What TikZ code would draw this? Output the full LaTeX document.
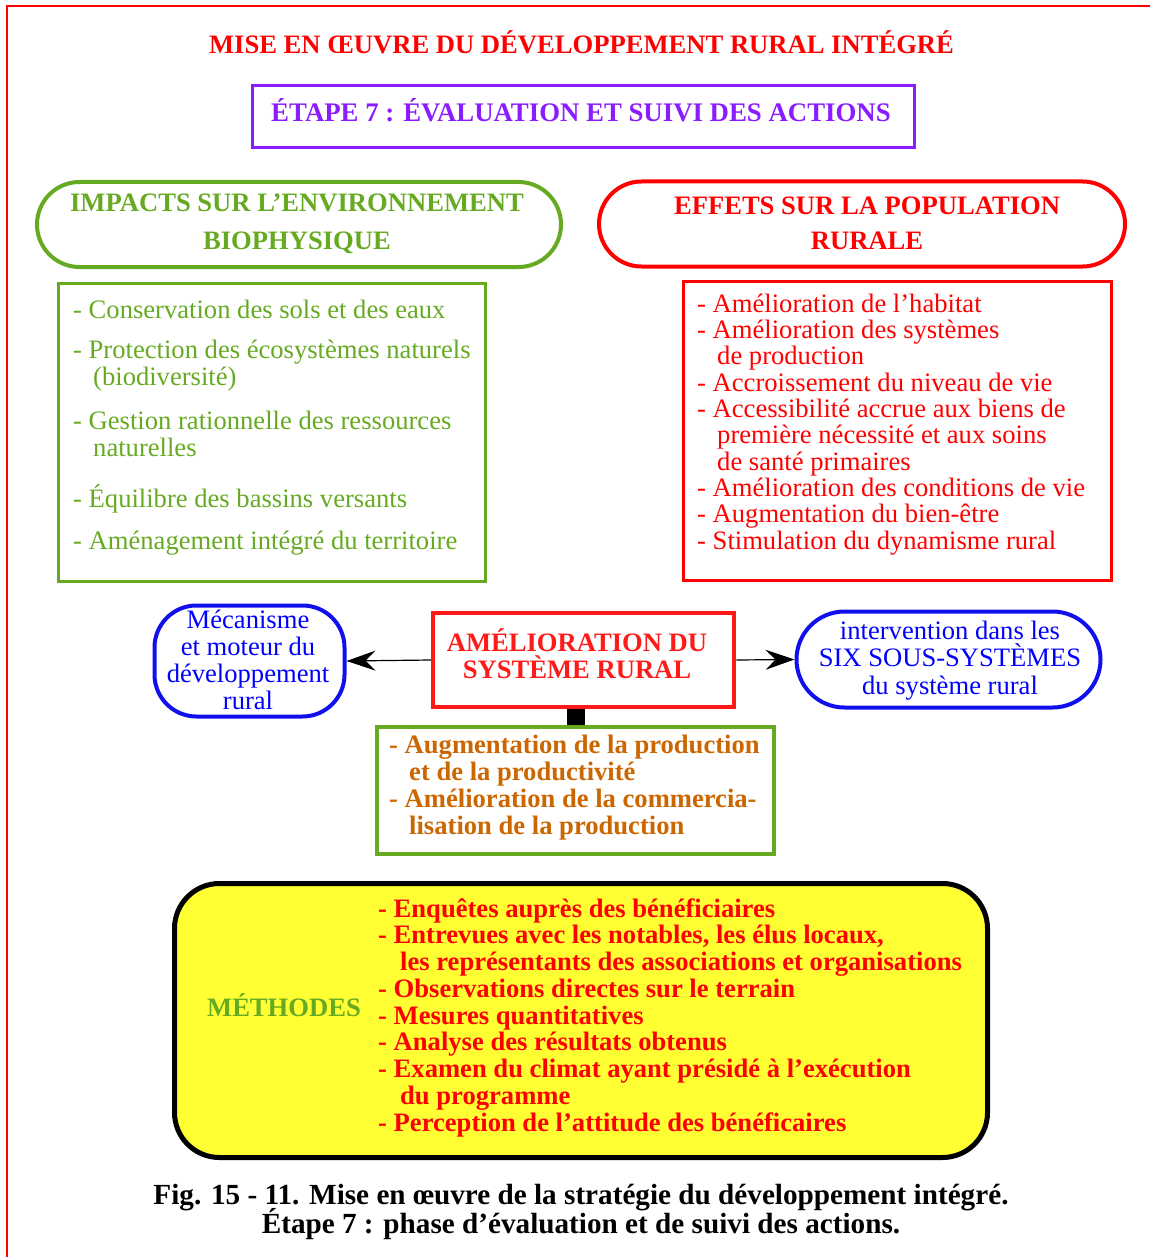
\documentclass[tikz,border=0pt]{standalone}
\usepackage{fontspec}
\setmainfont{Liberation Serif}
\usetikzlibrary{arrows.meta,shapes.misc}
\definecolor{cred}{HTML}{FF0000}
\definecolor{cboxred}{HTML}{FF1A1A}
\definecolor{cpurple}{HTML}{8A1CFF}
\definecolor{cgreen}{HTML}{66AA22}
\definecolor{cblue}{HTML}{0000FF}
\definecolor{cboxblue}{HTML}{1010EE}
\definecolor{corange}{HTML}{CC6600}
\definecolor{cyellow}{HTML}{FFFF33}
\begin{document}
\setlength{\lineskiplimit}{-100pt}
\begin{tikzpicture}[x=1pt,y=-1pt,
  hdrbox/.style={rounded rectangle, line width=4pt, inner sep=0pt},
  plainbox/.style={rectangle, line width=3pt, inner sep=0pt},
  txt/.style={inner sep=0pt, anchor=base},
  ltxt/.style={inner sep=0pt, anchor=base west, align=left},
  bigb/.style={font=\bfseries\fontsize{26.6}{37}\selectfont},
  arr/.style={line width=1.2pt, -{Stealth[length=29pt,width=20pt,inset=10pt]}},
]
\useasboundingbox (0,0) rectangle (1150,1257);
\draw[cred, line width=1.2pt] (7,1257) -- (7,6) -- (1150,6);

% title
\node[txt, text=cred, font=\bfseries\fontsize{26.6}{30}\selectfont] (title) at (581.5,54)
  {MISE EN ŒUVRE DU DÉVELOPPEMENT RURAL INTÉGRÉ};

% etape
\node[plainbox, draw=cpurple, minimum width=662, minimum height=62] (etape) at (583.5,116.5) {};
\node[txt, text=cpurple, font=\bfseries\fontsize{26.8}{30}\selectfont] (etapetxt) at (581,122)
  {ÉTAPE 7 : ÉVALUATION ET SUIVI DES ACTIONS};

% headers
\node[hdrbox, draw=cgreen, minimum width=524, minimum height=85] (envhdr) at (299,224.5) {};
\node[txt, align=center, text=cgreen, bigb] (envtxt) at (297,249)
  {IMPACTS SUR L’ENVIRONNEMENT\\BIOPHYSIQUE};
\node[hdrbox, draw=cred, minimum width=526, minimum height=85] (pophdr) at (862,224) {};
\node[txt, align=center, text=cred, font=\bfseries\fontsize{26.6}{35}\selectfont] (poptxt) at (867,249)
  {EFFETS SUR LA POPULATION\\RURALE};

% green list
\node[plainbox, draw=cgreen, minimum width=427, minimum height=298] (envbox) at (272,432.5) {};
\node[ltxt, text=cgreen, font=\fontsize{26.6}{27}\selectfont] (envlist) at (73,549)
  {- Conservation des sols et des eaux\\[13pt]
   - Protection des écosystèmes naturels\\
   \hspace*{20pt}(biodiversité)\\[17pt]
   - Gestion rationnelle des ressources\\
   \hspace*{20pt}naturelles\\[24pt]
   - Équilibre des bassins versants\\[15pt]
   - Aménagement intégré du territoire};

% red list
\node[plainbox, draw=cred, minimum width=428, minimum height=299] (popbox) at (897.5,431) {};
\node[ltxt, text=cred, font=\fontsize{26.6}{26.33}\selectfont] (poplist) at (697,549)
  {- Amélioration de l’habitat\\
   - Amélioration des systèmes\\
   \hspace*{20pt}de production\\
   - Accroissement du niveau de vie\\
   - Accessibilité accrue aux biens de\\
   \hspace*{20pt}première nécessité et aux soins\\
   \hspace*{20pt}de santé primaires\\
   - Amélioration des conditions de vie\\
   - Augmentation du bien-être\\
   - Stimulation du dynamisme rural};

% middle row
\node[rectangle, rounded corners=42pt, draw=cboxblue, line width=4pt, minimum width=190, minimum height=111] (mech) at (249.5,661) {};
\node[txt, align=center, text=cblue, font=\fontsize{26.6}{27}\selectfont] (mechtxt) at (248,709)
  {Mécanisme\\et moteur du\\développement\\rural};
\node[plainbox, draw=cboxred, line width=4.5pt, minimum width=301, minimum height=94] (center) at (583.5,660) {};
\node[txt, align=center, text=cboxred, font=\bfseries\fontsize{26.6}{27}\selectfont] (centertxt) at (577,678)
  {AMÉLIORATION DU\\SYSTÈME RURAL};
\node[hdrbox, draw=cboxblue, minimum width=304, minimum height=96] (six) at (948.5,659.5) {};
\node[txt, align=center, text=cblue, font=\fontsize{26.6}{27.5}\selectfont] (sixtxt) at (950,694)
  {intervention dans les\\SIX SOUS-SYSTÈMES\\du système rural};

\draw[arr] (center.west) -- (mech.east);
\draw[arr] (center.east) -- (six.west);

% production box
\node[plainbox, draw=cgreen, line width=4pt, minimum width=397, minimum height=127] (prod) at (575.5,790.5) {};
\node[ltxt, text=corange, font=\bfseries\fontsize{26.6}{26.7}\selectfont] (prodtxt) at (389,834)
  {- Augmentation de la production\\
   \hspace*{20pt}et de la productivité\\
   - Amélioration de la commercia-\\
   \hspace*{20pt}lisation de la production};
\draw[line width=18pt] (prod.north) -- (prod.north |- center.south);

% methods
\node[rectangle, rounded corners=45pt, draw=black, fill=cyellow, line width=5pt, minimum width=813, minimum height=274] (meth) at (581,1020.5) {};
\node[txt, text=cgreen, font=\bfseries\fontsize{26.6}{30}\selectfont] (methtxt) at (284,1016) {MÉTHODES};
\node[ltxt, text=cred, font=\bfseries\fontsize{26.6}{26.75}\selectfont] (methlist) at (378,1131)
  {- Enquêtes auprès des bénéficiaires\\
   - Entrevues avec les notables, les élus locaux,\\
   \hspace*{22pt}les représentants des associations et organisations\\
   - Observations directes sur le terrain\\
   - Mesures quantitatives\\
   - Analyse des résultats obtenus\\
   - Examen du climat ayant présidé à l’exécution\\
   \hspace*{22pt}du programme\\
   - Perception de l’attitude des bénéficaires};

% caption
\node[txt, align=center, font=\bfseries\fontsize{29.2}{29}\selectfont] (caption) at (581,1233)
  {Fig. 15 - 11. Mise en œuvre de la stratégie du développement intégré.\\
   Étape 7 : phase d’évaluation et de suivi des actions.};
\end{tikzpicture}
\end{document}
